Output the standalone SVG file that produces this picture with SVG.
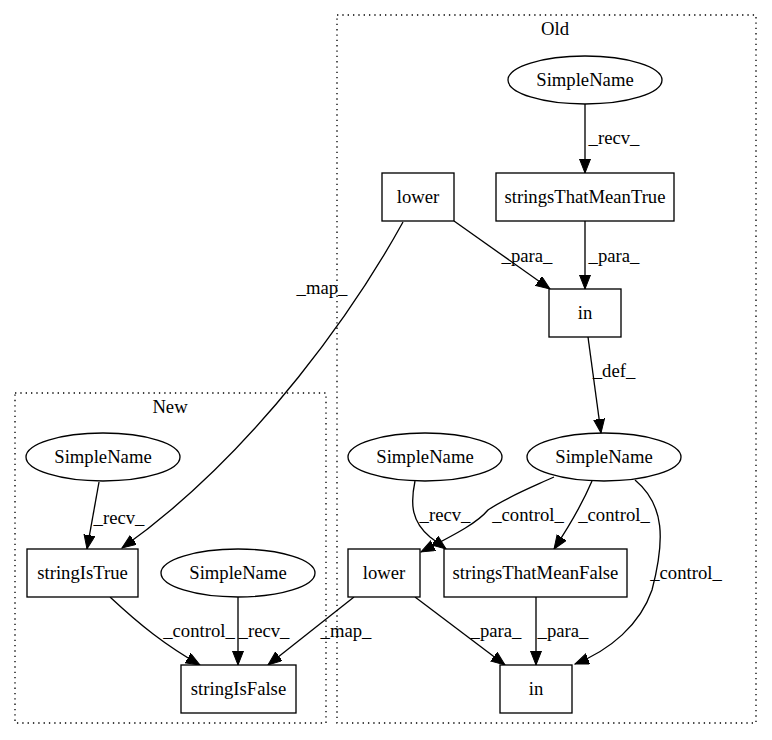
<svg xmlns="http://www.w3.org/2000/svg" width="772" height="740" viewBox="0 0 772 740">
<defs>
<marker id="ah" markerUnits="userSpaceOnUse" markerWidth="16" markerHeight="14" refX="14" refY="5.5" orient="auto">
<path d="M0,0 L14,5.5 L0,11 Z" fill="#000" stroke="#000" stroke-width="1"/>
</marker>
</defs>
<style>
text{font-family:"Liberation Serif","Times New Roman",serif;font-size:18.67px;fill:#000;text-anchor:middle}
.n rect,.n ellipse{fill:#fff;stroke:#000;stroke-width:1.33}
.c{fill:none;stroke:#000;stroke-width:1.33;stroke-dasharray:1.33,4}
#edges path{fill:none;stroke:#000;stroke-width:1.33;marker-end:url(#ah)}
</style>
<rect width="772" height="740" fill="#fff"/>
<g id="cluster_old"><rect class="c" x="337" y="15" width="419" height="708"/><text x="555" y="35">Old</text></g>
<g id="cluster_new"><rect class="c" x="15" y="393" width="311" height="330"/><text x="170" y="413">New</text></g>
<g id="edges">
<path d="M585,104 L585,173"/>
<text x="614" y="144">_recv_</text>
<path d="M585,221 L585,289"/>
<text x="614" y="262">_para_</text>
<path d="M454,221 L550,289"/>
<text x="527" y="262">_para_</text>
<path d="M403,222 C360,300 260,450 122,548"/>
<text x="322" y="294">_map_</text>
<path d="M588,337 L601,433"/>
<text x="614" y="377">_def_</text>
<path d="M554,477 C530,488 505,498 488,510 C478,522 460,532 421,552"/>
<text x="528" y="521">_control_</text>
<path d="M592,481 C583,502 570,525 554,549"/>
<text x="614" y="521">_control_</text>
<path d="M635,480 C665,505 665,540 652,590 C640,625 610,650 575,664"/>
<text x="686" y="579">_control_</text>
<path d="M415,481 C410,505 412,522 430,537 L446,549"/>
<text x="445" y="521">_recv_</text>
<path d="M415,597 L505,665"/>
<text x="496" y="637">_para_</text>
<path d="M536,597 L536,665"/>
<text x="563" y="637">_para_</text>
<path d="M354,597 L268,665"/>
<text x="346" y="637">_map_</text>
<path d="M99,482 L87,549"/>
<text x="119" y="524">_recv_</text>
<path d="M110,597 C140,625 165,645 200,665"/>
<text x="199" y="637">_control_</text>
<path d="M238,597 L238,665"/>
<text x="264" y="637">_recv_</text>
</g>
<g id="old_simplename_top" class="n"><ellipse cx="585" cy="80" rx="77" ry="24"/><text x="585" y="86">SimpleName</text></g>
<g id="old_stringsThatMeanTrue" class="n"><rect x="496" y="173" width="178" height="48"/><text x="585" y="203">stringsThatMeanTrue</text></g>
<g id="old_lower_top" class="n"><rect x="382" y="173" width="72" height="48"/><text x="418" y="203">lower</text></g>
<g id="old_in_top" class="n"><rect x="549" y="289" width="72" height="48"/><text x="585" y="319">in</text></g>
<g id="old_simplename_right" class="n"><ellipse cx="604" cy="457" rx="77" ry="24"/><text x="604" y="463">SimpleName</text></g>
<g id="old_simplename_left" class="n"><ellipse cx="425" cy="457" rx="77" ry="24"/><text x="425" y="463">SimpleName</text></g>
<g id="old_lower_bottom" class="n"><rect x="348" y="549" width="72" height="48"/><text x="384" y="579">lower</text></g>
<g id="old_stringsThatMeanFalse" class="n"><rect x="444" y="549" width="183" height="48"/><text x="535.5" y="579">stringsThatMeanFalse</text></g>
<g id="old_in_bottom" class="n"><rect x="500" y="665" width="72" height="48"/><text x="536" y="695">in</text></g>
<g id="new_simplename_1" class="n"><ellipse cx="103" cy="457" rx="77" ry="24"/><text x="103" y="463">SimpleName</text></g>
<g id="new_stringIsTrue" class="n"><rect x="27" y="549" width="111" height="48"/><text x="82.5" y="579">stringIsTrue</text></g>
<g id="new_simplename_2" class="n"><ellipse cx="238" cy="573" rx="77" ry="24"/><text x="238" y="579">SimpleName</text></g>
<g id="new_stringIsFalse" class="n"><rect x="181" y="665" width="115" height="48"/><text x="238.5" y="695">stringIsFalse</text></g>
</svg>
